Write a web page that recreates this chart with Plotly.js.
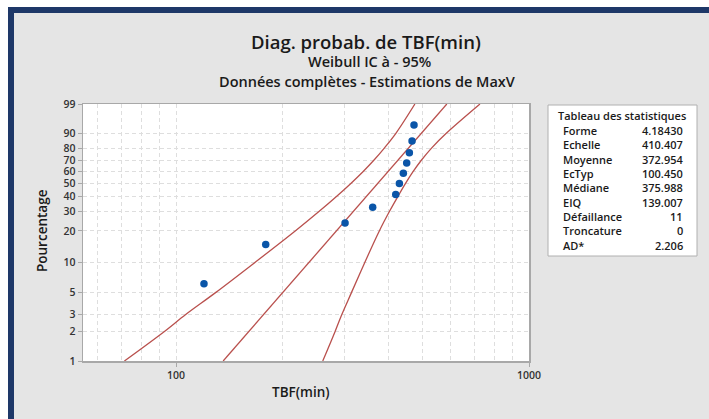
<!DOCTYPE html>
<html><head><meta charset="utf-8">
<script src="https://cdn.plot.ly/plotly-3.0.1.min.js"></script>
<style>
html,body{margin:0;padding:0;background:#fff;width:709px;height:419px;overflow:hidden}
#frame{position:absolute;left:8px;top:7px;width:701px;height:412px;background:#1e3868}
#plot{position:absolute;left:6px;top:6px;width:695px;height:406px}
</style></head><body>
<div id="frame"><div id="plot"></div></div>
<script>
// Data
const tbf = [120.0, 179.5, 301.2, 360.7, 419.2, 429.3, 440.6, 450.3, 458.2, 466.3, 472.3];
const pct = [6.14, 14.91, 23.68, 32.46, 41.23, 50.0, 58.77, 67.54, 76.32, 85.09, 93.86];
const fitTbf = [136, 585];
const fitPct = [1, 99];
const ciPct  = [1, 2, 3, 5, 10, 20, 30, 40, 50, 60, 70, 80, 90, 99];
const ciLow  = [71.4, 92.5, 106.5, 129.4, 167.3, 217.6, 254.5, 285.3, 312.8, 338.5, 363.4, 389.1, 420.1, 475.1];
const ciHigh = [260.4, 282.1, 294.9, 314.0, 342.6, 376.6, 402.6, 425.6, 446.9, 469.3, 495.4, 529.5, 583.9, 726.3];
const yTicks = [1, 2, 3, 5, 10, 20, 30, 40, 50, 60, 70, 80, 90, 99];
const xTicks = [100, 1000];
const xGrid = [60, 70, 80, 90, 200, 300, 400, 500, 600, 700, 800, 900];
const statTitle = "Tableau des statistiques";
const statLabels = ["Forme", "Echelle", "Moyenne", "EcTyp", "Médiane", "EIQ", "Défaillance", "Troncature", "AD*"];
const statValues = ["4.18430", "410.407", "372.954", "100.450", "375.988", "139.007", "11", "0", "2.206"];

// Weibull probability scale
const wb = p => Math.log(-Math.log(1 - p / 100));

const lineColor = '#b9504d';
const traces = [
  {x: ciLow, y: ciPct.map(wb), mode: 'lines', line: {color: lineColor, width: 1.3, shape: 'spline'}, hoverinfo: 'skip'},
  {x: ciHigh, y: ciPct.map(wb), mode: 'lines', line: {color: lineColor, width: 1.3, shape: 'spline'}, hoverinfo: 'skip'},
  {x: fitTbf, y: fitPct.map(wb), mode: 'lines', line: {color: lineColor, width: 1.3}, hoverinfo: 'skip'},
  {x: tbf, y: pct.map(wb), mode: 'markers', marker: {color: '#0a55a8', size: 7.5}}
];

// page -> paper helpers (plot area in page px: x 83..529, y 104..361)
const PX0 = 83, PX1 = 529, PY0 = 104, PY1 = 361;
const px = v => (v - PX0) / (PX1 - PX0);
const py = v => (PY1 - v) / (PY1 - PY0);

const FONT = '"Open Sans", "Noto Sans", sans-serif';
const ann = [];
const T = (text, x, y, size, opts) => Object.assign({text, x: px(x), y: py(y), xref: 'paper', yref: 'paper', showarrow: false, xanchor: 'center', yanchor: 'middle', font: {family: FONT, size, color: '#1a1a1a', weight: 600}}, opts || {});
ann.push(T('Diag. probab. de TBF(min)', 366, 42, 18.5));
ann.push(T('Weibull IC à - 95%', 369, 62, 14.5));
ann.push(T('Données complètes - Estimations de MaxV', 367, 81, 14.5));
ann.push(T('TBF(min)', 301, 392, 13.5));
ann.push(T('Pourcentage', 42, 231, 13.5, {textangle: -90}));

const rowY = [130, 144, 159, 173, 187, 202, 216, 230, 245];
ann.push(T(statTitle, 556, 116, 11, {xanchor: 'left'}));
statLabels.forEach((l, i) => {
  ann.push(T(l, 561, rowY[i], 11, {xanchor: 'left'}));
  ann.push(T(statValues[i], 685, rowY[i], 11, {xanchor: 'right'}));
});

const grid = {showgrid: true, gridcolor: '#dedede', griddash: '4px,3px', gridwidth: 1};
const layout = {
  width: 695, height: 406,
  margin: {l: 69, r: 180, t: 91, b: 58},
  paper_bgcolor: '#e5e5e5', plot_bgcolor: '#ffffff',
  showlegend: false,
  font: {family: FONT, color: '#333'},
  xaxis: Object.assign({
    type: 'log', range: [Math.log10(54.5), 3],
    tickvals: xTicks, ticktext: xTicks.map(String),
    ticks: 'outside', ticklen: 4, tickcolor: '#a8a8a8',
    tickfont: {family: FONT, size: 10.5, color: '#333', weight: 600},
    minor: Object.assign({tickvals: xGrid, ticks: ''}, grid),
    showline: true, linecolor: '#a8a8a8', linewidth: 1.5, mirror: true,
    zeroline: false, fixedrange: true
  }, grid),
  yaxis: Object.assign({
    range: [wb(1), wb(99)],
    tickvals: yTicks.map(wb), ticktext: yTicks.map(String),
    ticks: 'outside', ticklen: 4, tickcolor: '#a8a8a8',
    tickfont: {family: FONT, size: 10.5, color: '#333', weight: 600},
    showline: true, linecolor: '#a8a8a8', linewidth: 1.5, mirror: true,
    zeroline: false, fixedrange: true
  }, grid),
  shapes: [{type: 'rect', xref: 'paper', yref: 'paper', x0: px(548), x1: px(697), y0: py(256), y1: py(105), line: {color: '#b0b0b0', width: 1}, fillcolor: '#ffffff', layer: 'below'}],
  annotations: ann
};

Plotly.newPlot('plot', traces, layout, {staticPlot: true});
</script>
</body></html>
